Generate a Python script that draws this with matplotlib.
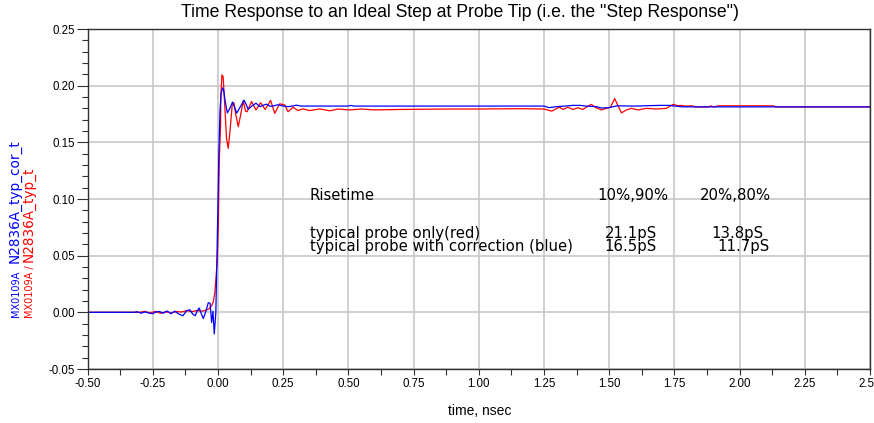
import matplotlib
matplotlib.use("Agg")
import matplotlib.pyplot as plt
from matplotlib.ticker import MultipleLocator, FormatStrFormatter

plt.rcParams['font.family'] = ['Liberation Sans', 'DejaVu Sans']
plt.rcParams['axes.unicode_minus'] = False

# step response with correction (blue), time in nsec
blue_t = [-0.50, -0.32, -0.31, -0.295, -0.28, -0.265, -0.25, -0.238, -0.225, -0.21,
          -0.195, -0.18, -0.165, -0.15, -0.134, -0.12, -0.107, -0.097, -0.087, -0.08,
          -0.072, -0.064, -0.056, -0.046, -0.037, -0.030, -0.024, -0.019, -0.014, -0.008,
          -0.004, 0.000, 0.004, 0.008, 0.012, 0.018, 0.022, 0.028, 0.036, 0.046,
          0.056, 0.064, 0.072, 0.085, 0.100, 0.108, 0.116, 0.130, 0.146, 0.161,
          0.175, 0.186, 0.200, 0.215, 0.230, 0.250, 0.270, 0.290, 0.300, 0.320,
          0.500, 0.510, 0.520, 1.250, 1.270, 1.300, 1.330, 1.360, 1.390, 1.410,
          1.450, 1.470, 1.500, 1.530, 1.600, 1.690, 1.730, 1.780, 2.500]
blue_y = [0.0, 0.0, 0.0006, -0.0008, 0.0004, -0.0006, -0.0012, 0.0003, 0.0008, -0.0008,
          0.0012, -0.0012, 0.0010, -0.0015, -0.0030, 0.0015, 0.0022, -0.0015, -0.0030, 0.0010,
          0.0038, -0.0010, -0.0055, 0.0010, 0.0085, 0.0080, -0.0090, 0.0010, -0.0190, 0.0,
          0.045, 0.095, 0.145, 0.178, 0.193, 0.198, 0.196, 0.186, 0.176, 0.180,
          0.1855, 0.181, 0.1758, 0.181, 0.1872, 0.1835, 0.1792, 0.1820, 0.1845, 0.1815,
          0.1828, 0.1837, 0.1818, 0.1822, 0.1832, 0.1820, 0.1815, 0.1822, 0.1828, 0.1820,
          0.1820, 0.1826, 0.1820, 0.1820, 0.1806, 0.1815, 0.1820, 0.1826, 0.1826, 0.1820,
          0.1815, 0.1803, 0.1806, 0.1822, 0.1820, 0.1826, 0.1826, 0.1813, 0.1813]

# typical probe only (red)
red_t = [-0.50, -0.30, -0.28, -0.26, -0.24, -0.22, -0.20, -0.18, -0.16, -0.14,
         -0.12, -0.10, -0.08, -0.06, -0.045, -0.035, -0.025, -0.018, -0.012, -0.008,
         -0.002, 0.002, 0.005, 0.0103, 0.0115, 0.0153, 0.020, 0.0268, 0.033, 0.0395,
         0.046, 0.0548, 0.061, 0.069, 0.078, 0.087, 0.097, 0.106, 0.112, 0.129,
         0.146, 0.1636, 0.181, 0.202, 0.218, 0.237, 0.256, 0.269, 0.288, 0.307,
         0.325, 0.352, 0.39, 0.429, 0.46, 0.505, 0.55, 0.60, 0.70, 0.88,
         1.00, 1.17, 1.25, 1.28, 1.30, 1.31, 1.323, 1.342, 1.361, 1.38,
         1.399, 1.431, 1.45, 1.470, 1.489, 1.505, 1.521, 1.534, 1.547, 1.566,
         1.585, 1.611, 1.643, 1.681, 1.719, 1.745, 1.764, 1.777, 1.79, 1.82,
         1.83, 1.88, 1.89, 1.90, 1.92, 2.13, 2.14, 2.50]
red_y = [0.0, 0.0, 0.0008, -0.0006, 0.0008, -0.0008, 0.0005, -0.0006, 0.0008, 0.0003,
         0.0015, 0.0006, 0.0016, 0.0010, 0.0020, 0.0030, 0.0055, 0.0090, 0.0170, 0.0285,
         0.0480, 0.080, 0.133, 0.165, 0.192, 0.2095, 0.208, 0.180, 0.1535, 0.1447,
         0.159, 0.183, 0.185, 0.174, 0.1638, 0.174, 0.1865, 0.1775, 0.1770, 0.1860,
         0.1785, 0.1850, 0.1790, 0.1870, 0.1756, 0.1840, 0.1830, 0.1770, 0.1810, 0.1780,
         0.1795, 0.1780, 0.1795, 0.1778, 0.1794, 0.1786, 0.1794, 0.1786, 0.1790, 0.1794,
         0.1794, 0.1797, 0.1794, 0.1775, 0.1800, 0.1810, 0.1790, 0.1810, 0.1790, 0.1805,
         0.1790, 0.1835, 0.1805, 0.1786, 0.1800, 0.1810, 0.1886, 0.1823, 0.1760, 0.1786,
         0.1800, 0.1786, 0.1800, 0.1794, 0.1800, 0.1835, 0.1823, 0.1826, 0.1820, 0.1822,
         0.1812, 0.1812, 0.1822, 0.1812, 0.1822, 0.1822, 0.1812, 0.1812]

# risetime table
table_header = ["Risetime", "10%,90%", "20%,80%"]
table_rows = [["typical probe only(red)", "21.1pS", "13.8pS"],
              ["typical probe with correction (blue)", "16.5pS", "11.7pS"]]

W, H = 874, 423
fig = plt.figure(figsize=(W / 100, H / 100), dpi=100)
ax = fig.add_axes([87.5 / W, 1 - 369 / H, (870 - 87.5) / W, (369 - 29) / H])

ax.plot(red_t, red_y, color='#ff0000', lw=0.9)
ax.plot(blue_t, blue_y, color='#0000ff', lw=0.9)

ax.set_xlim(-0.5, 2.5)
ax.set_ylim(-0.05, 0.25)
ax.xaxis.set_major_locator(MultipleLocator(0.25))
ax.xaxis.set_minor_locator(MultipleLocator(0.125))
ax.yaxis.set_major_locator(MultipleLocator(0.05))
ax.yaxis.set_minor_locator(MultipleLocator(0.01))
ax.xaxis.set_major_formatter(FormatStrFormatter('%.2f'))
ax.yaxis.set_major_formatter(FormatStrFormatter('%.2f'))
ax.grid(True, which='major', color='#c8c8c8', lw=1.2)
ax.set_axisbelow(True)
for s in ax.spines.values():
    s.set_color('#303030')
    s.set_linewidth(1.0)
ax.tick_params(axis='y', which='major', length=8, width=0.8, color='#303030', labelsize=8.3, pad=0.8)
ax.tick_params(axis='y', which='minor', length=4, width=0.8, color='#303030')
ax.tick_params(axis='x', which='major', length=4.5, width=0.8, color='#303030', labelsize=8.3, pad=2)
ax.tick_params(axis='x', which='minor', length=4.5, width=0.8, color='#303030')

# table text inside the plot
txt = dict(fontsize=10.7, family='DejaVu Sans', ha='left', va='baseline', color='black')
ax.text(0.3525, 0.0991, table_header[0], **txt)
ax.text(1.456, 0.0991, table_header[1], **txt)
ax.text(1.847, 0.0991, table_header[2], **txt)
row_y = [0.0660, 0.0538]
for i, row in enumerate(table_rows):
    ax.text(0.3525, row_y[i], row[0], **txt)
    ax.text(1.483, row_y[i], row[1], **txt)
    ax.text(1.483 + (0.41 if i == 0 else 0.43), row_y[i], row[2], **txt)

fig.text(460 / W, 1 - 16.7 / H, 'Time Response to an Ideal Step at Probe Tip (i.e. the "Step Response")',
         ha='center', va='baseline', fontsize=12.7)
fig.text(480 / W, 1 - 411 / H, 'time, nsec', ha='center', va='center', fontsize=10)

# two-colour y label
lab = dict(rotation=90, rotation_mode='anchor', ha='left', va='baseline', family='DejaVu Sans')
fig.text(18.5 / W, 1 - 317 / H, 'MX0109A', color='#0000ff', fontsize=7, **lab)
fig.text(18.5 / W, 1 - 263 / H, 'N2836A_typ_cor_t', color='#0000ff', fontsize=9.8, **lab)
fig.text(32.5 / W, 1 - 318 / H, 'MX0109A /', color='#ff0000', fontsize=7, **lab)
fig.text(32.5 / W, 1 - 262 / H, 'N2836A_typ_t', color='#ff0000', fontsize=9.8, **lab)

fig.savefig('out.png', dpi=100)
